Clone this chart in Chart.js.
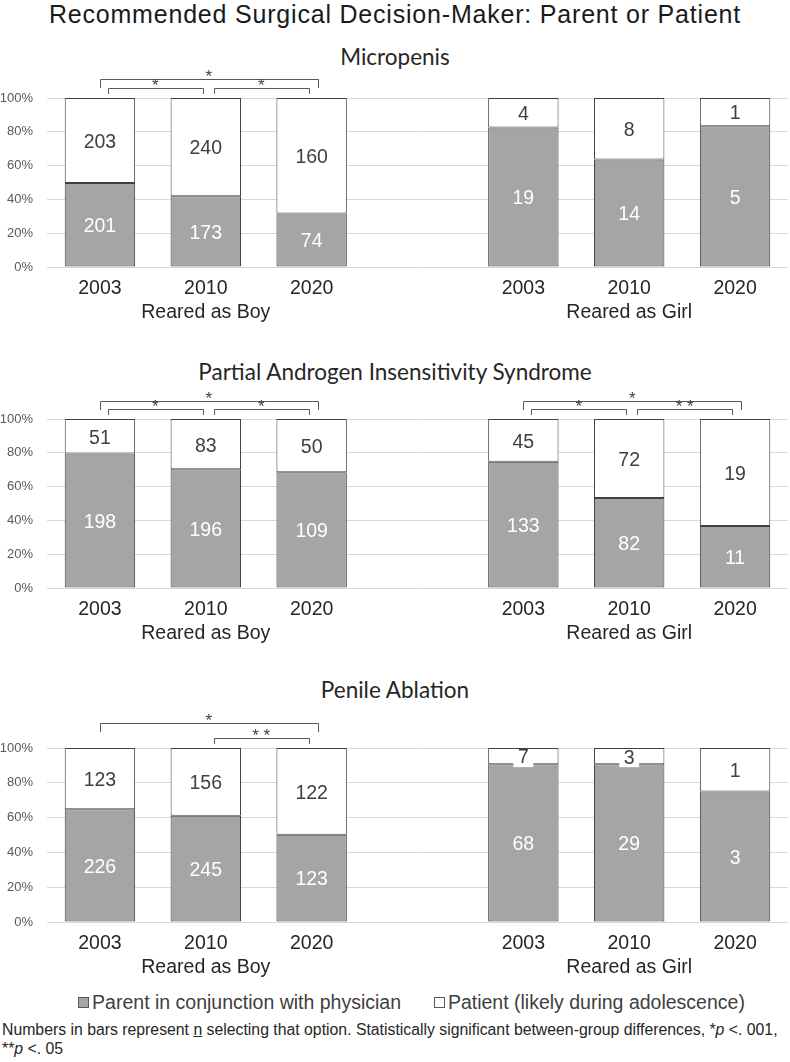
<!DOCTYPE html>
<html>
<head>
<meta charset="utf-8">
<script src="https://cdn.jsdelivr.net/npm/chart.js@4.4.0/dist/chart.umd.min.js"></script>
<style>
  body { margin: 0; background: #fff; width: 790px; height: 1062px; position: relative; overflow: hidden; font-family: "Liberation Sans", Arial, sans-serif; }
  .abs { position: absolute; }
  .title { left: 0; width: 790px; top: 0px; text-align: center; font-size: 25px; letter-spacing: 0.8px; color: #1a1a1a; line-height: 28px; white-space: nowrap; }
  .sub { left: 0; width: 790px; text-align: center; font-family: Lato, "Open Sans", sans-serif; font-size: 22.5px; color: #262626; line-height: 26px; }
  .panel { left: 0; width: 790px; }
  .legend { left: 0; width: 790px; top: 990px; text-align: center; font-size: 19.5px; color: #404040; line-height: 24px; padding-left: 33px; box-sizing: border-box; white-space: nowrap; }
  .legend .box { display: inline-block; width: 9px; height: 9px; border: 1px solid #595959; margin-right: 3px; vertical-align: 1px; }
  .note { left: 2px; top: 1020px; width: 788px; font-family: "Liberation Sans Narrow", "Liberation Sans", sans-serif; font-size: 15.8px; color: #262626; line-height: 19px; white-space: nowrap; }
</style>
</head>
<body>
<div class="abs title">Recommended Surgical Decision-Maker: Parent or Patient</div>
<div class="abs sub" style="top:44px">Micropenis</div>
<div class="abs sub" style="top:359px">Partial Androgen Insensitivity Syndrome</div>
<div class="abs sub" style="top:677px">Penile Ablation</div>

<div class="abs panel" style="top:64px;height:261px"><canvas id="chart1"></canvas></div>
<div class="abs panel" style="top:385px;height:261px"><canvas id="chart2"></canvas></div>
<div class="abs panel" style="top:714px;height:266px"><canvas id="chart3"></canvas></div>

<div class="abs legend">
  <span class="box" style="background:#a5a5a5"></span>Parent in conjunction with physician
  <span style="display:inline-block;width:22px"></span>
  <span class="box" style="background:#fff"></span>Patient (likely during adolescence)
</div>
<div class="abs note">Numbers in bars represent <u>n</u> selecting that option. Statistically significant between-group differences, *<i>p</i> &lt;. 001,<br>**<i>p</i> &lt;. 05</div>

<script>
// categories: boy years, empty gap, girl years
const years = ['2003', '2010', '2020', '', '2003', '2010', '2020'];
const groupLabels = ['Reared as Boy', 'Reared as Girl'];

// counts selecting each option
const micropenisParent = [201, 173, 74, null, 19, 14, 5];
const micropenisPatient = [203, 240, 160, null, 4, 8, 1];
const paisParent = [198, 196, 109, null, 133, 82, 11];
const paisPatient = [51, 83, 50, null, 45, 72, 19];
const ablationParent = [226, 245, 123, null, 68, 29, 3];
const ablationPatient = [123, 156, 122, null, 7, 3, 1];

// significance brackets: category indexes, mark, level (1 = outer)
const micropenisBrackets = [
    { from: 0, to: 2, mark: '*', level: 1 },
    { from: 0, to: 1, mark: '*', level: 0 },
    { from: 1, to: 2, mark: '*', level: 0 }
];
const paisBrackets = [
    { from: 0, to: 2, mark: '*', level: 1 },
    { from: 0, to: 1, mark: '*', level: 0 },
    { from: 1, to: 2, mark: '*', level: 0 },
    { from: 4, to: 6, mark: '*', level: 1 },
    { from: 4, to: 5, mark: '*', level: 0 },
    { from: 5, to: 6, mark: '**', level: 0 }
];
const ablationBrackets = [
    { from: 0, to: 2, mark: '*', level: 1 },
    { from: 1, to: 2, mark: '**', level: 0 }
];

const PARENT_COLOR = '#a5a5a5';
const TEXT_DARK = '#404040';
const FONT = '"Liberation Sans", Arial, sans-serif';

function toPercent(a, b) {
    return a.map((v, i) => v == null ? null : v / (v + b[i]) * 100);
}

function tickLabels() {
    return years.map((y, i) => {
        if (i === 1) return [y, groupLabels[0]];
        if (i === 5) return [y, groupLabels[1]];
        return y;
    });
}

// count labels centred in each segment
const countLabels = {
    id: 'countLabels',
    afterDatasetsDraw(chart) {
        const ctx = chart.ctx;
        ctx.save();
        ctx.font = '19.5px ' + FONT;
        ctx.textAlign = 'center';
        ctx.textBaseline = 'middle';
        chart.data.datasets.forEach((ds, di) => {
            const meta = chart.getDatasetMeta(di);
            meta.data.forEach((bar, i) => {
                const n = ds.counts[i];
                if (n == null) return;
                const cy = (bar.y + bar.base) / 2;
                const text = String(n);
                if (di === 1) {
                    const w = ctx.measureText(text).width + 9;
                    const top = Math.max(cy - 10, chart.chartArea.top + 1);
                    ctx.fillStyle = '#ffffff';
                    ctx.fillRect(bar.x - w / 2, top, w, cy + 11 - top);
                    ctx.fillStyle = TEXT_DARK;
                } else {
                    ctx.fillStyle = '#ffffff';
                }
                ctx.fillText(text, bar.x, cy + 2);
            });
        });
        ctx.restore();
    }
};

// significance brackets above the bars
const sigBrackets = {
    id: 'sigBrackets',
    afterDraw(chart, args, opts) {
        const ctx = chart.ctx;
        const xs = chart.scales.x;
        const top = chart.chartArea.top;
        ctx.save();
        ctx.strokeStyle = '#595959';
        ctx.lineWidth = 1;
        ctx.fillStyle = TEXT_DARK;
        ctx.font = '17px ' + FONT;
        ctx.textAlign = 'center';
        ctx.textBaseline = 'middle';
        (opts.brackets || []).forEach(b => {
            let x1 = xs.getPixelForValue(b.from);
            let x2 = xs.getPixelForValue(b.to);
            let y, y2;
            if (b.level === 1) {
                x2 += 6;
                y = top - opts.outer;
                y2 = y + 9;
            } else {
                x1 += 8;
                x2 -= 3;
                y = top - 10;
                y2 = top - 4;
            }
            ctx.beginPath();
            ctx.moveTo(Math.round(x1) + 0.5, y2);
            ctx.lineTo(Math.round(x1) + 0.5, Math.round(y) + 0.5);
            ctx.lineTo(Math.round(x2) + 0.5, Math.round(y) + 0.5);
            ctx.lineTo(Math.round(x2) + 0.5, y2);
            ctx.stroke();
            ctx.fillText(b.mark.split('').join(' '), (x1 + x2) / 2, y - 2);
        });
        ctx.restore();
    }
};

function createPanel(canvasId, parent, patient, brackets, outer) {
    const ctx = document.getElementById(canvasId).getContext('2d');
    new Chart(ctx, {
        type: 'bar',
        data: {
            labels: tickLabels(),
            datasets: [{
                label: 'Parent in conjunction with physician',
                data: toPercent(parent, patient),
                counts: parent,
                backgroundColor: PARENT_COLOR,
                borderColor: TEXT_DARK,
                borderWidth: 1,
                borderSkipped: false
            }, {
                label: 'Patient (likely during adolescence)',
                data: toPercent(patient, parent),
                counts: patient,
                backgroundColor: '#ffffff',
                borderColor: TEXT_DARK,
                borderWidth: 1,
                borderSkipped: false
            }]
        },
        options: {
            responsive: true,
            maintainAspectRatio: false,
            animation: false,
            layout: { padding: { top: 34, right: 2, left: 0, bottom: 0 } },
            datasets: { bar: { categoryPercentage: 1, barPercentage: 0.665 } },
            plugins: {
                legend: { display: false },
                tooltip: { enabled: false },
                sigBrackets: { brackets: brackets, outer: outer }
            },
            scales: {
                x: {
                    stacked: true,
                    grid: { display: false, drawTicks: false },
                    border: { display: false },
                    ticks: {
                        padding: 10,
                        color: '#262626',
                        font: { size: 19.5, family: FONT, lineHeight: 1.23 },
                        maxRotation: 0,
                        autoSkip: false
                    },
                    afterFit(scale) { scale.height = 58; }
                },
                y: {
                    stacked: true,
                    min: 0,
                    max: 100,
                    grid: { color: '#d9d9d9', drawTicks: false },
                    border: { display: false },
                    ticks: {
                        stepSize: 20,
                        padding: 14,
                        color: '#595959',
                        font: { size: 13, family: FONT },
                        callback: v => v + '%'
                    },
                    afterFit(scale) { scale.width = 47; }
                }
            }
        },
        plugins: [countLabels, sigBrackets]
    });
}

createPanel('chart1', micropenisParent, micropenisPatient, micropenisBrackets, 19);
createPanel('chart2', paisParent, paisPatient, paisBrackets, 18);
createPanel('chart3', ablationParent, ablationPatient, ablationBrackets, 25);
</script>
</body>
</html>
